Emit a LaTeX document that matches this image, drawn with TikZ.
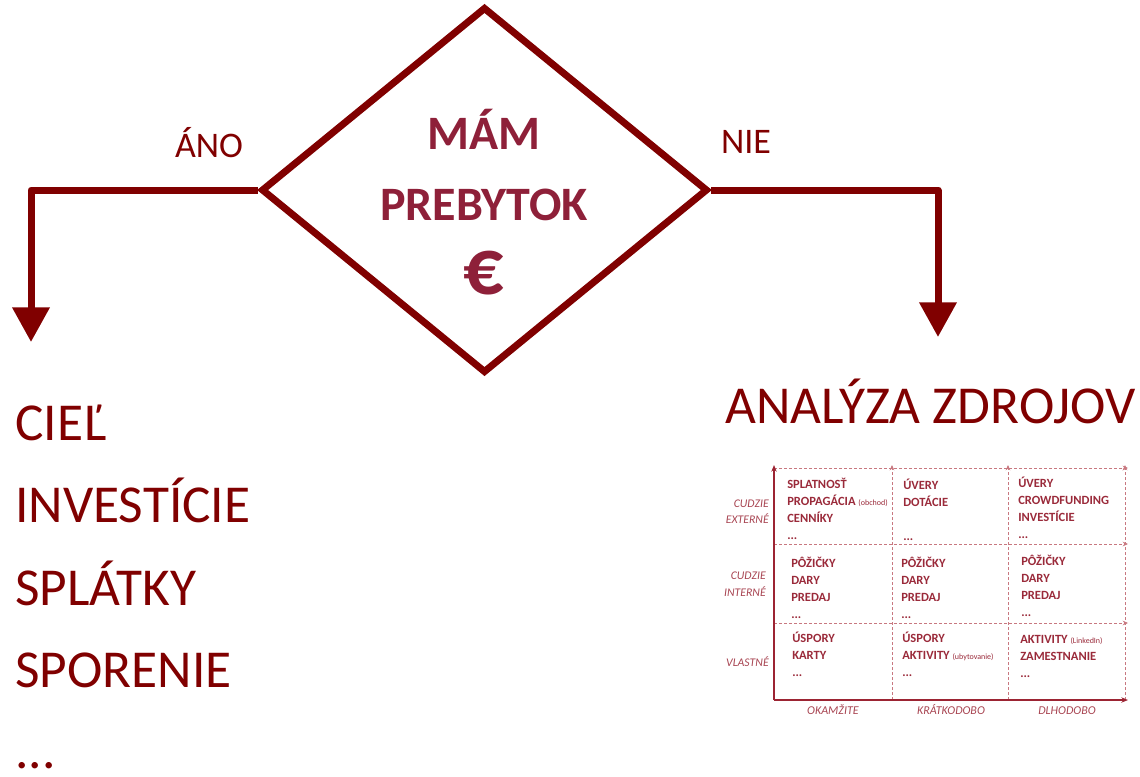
\documentclass[tikz,border=0pt]{standalone}
\usepackage{fontspec}
\setmainfont{Carlito}
\usetikzlibrary{arrows.meta,shapes.geometric}
\definecolor{maroon}{HTML}{800000}
\definecolor{dtext}{HTML}{8E2039}
\definecolor{ttext}{HTML}{9A2A3A}
\definecolor{tlabel}{HTML}{A84552}
\definecolor{tdash}{HTML}{C87880}
\definecolor{taxis}{HTML}{9C2433}
\newcommand{\smallp}{\fontsize{6pt}{7pt}\selectfont\mdseries}
\newcommand{\tdots}{...}
\newcommand{\celllines}[4]{%
  \foreach \ctext [count=\ci] in {#4} {%
    \node[cell] (#1-\ci) at (#2,{#3+(\ci-1)*17}) {\ctext};}}
\begin{document}
\begin{tikzpicture}[x=0.75pt,y=-0.75pt,
  conn/.style={draw=maroon,line width=5.25pt,line join=round,
    -{Triangle[width=27pt,length=26pt]}},
  big/.style={anchor=base west,inner sep=0pt,text=maroon,
    font=\fontsize{40pt}{45pt}\selectfont},
  yesno/.style={anchor=base,inner sep=0pt,text=maroon,
    font=\fontsize{27pt}{30pt}\selectfont},
  dlabel/.style={anchor=base,inner sep=0pt,text=dtext,
    font=\fontsize{36pt}{40pt}\selectfont\bfseries},
  cell/.style={anchor=base west,inner sep=0pt,text=ttext,
    font=\fontsize{9.4pt}{11pt}\selectfont\bfseries},
  rowlab/.style={anchor=base east,inner sep=0pt,text=tlabel,
    font=\fontsize{8.8pt}{10pt}\selectfont\itshape},
  collab/.style={anchor=base,inner sep=0pt,text=tlabel,
    font=\fontsize{9pt}{10pt}\selectfont\itshape},
  axis/.style={draw=taxis,line width=1.5pt,-{Stealth[length=5pt,width=4pt]}},
  grid/.style={draw=tdash,line width=0.75pt,dash pattern=on 2.25pt off 1.5pt,
    -{Stealth[length=4pt,width=3.5pt]}}]
\useasboundingbox (0,0) rectangle (1140,776);

% decision diamond
\node[diamond,draw=maroon,line width=5.25pt,inner sep=0pt,
  minimum width=335pt,minimum height=274.5pt] (dia) at (484.5,190) {};
\node[dlabel] (mam) at (484,149) {MÁM};
\node[dlabel] (preb) at (484,220) {PREBYTOK};
\node[dlabel,font=\fontsize{60pt}{64pt}\selectfont\bfseries] (eur) at (484,294) {€};

% branches
\coordinate (ltip) at (31,342);
\coordinate (rtip) at (938,337);
\draw[conn] (dia.west) -| (ltip);
\draw[conn] (dia.east) -| (rtip);
\node[yesno] (ano) at (209,157) {ÁNO};
\node[yesno] (nie) at (746,153) {NIE};

% left list
\node[big] (ciel) at (15,440) {CIEĽ};
\node[big] (inv) at (15,522) {INVESTÍCIE};
\node[big] (spl) at (15,605) {SPLÁTKY};
\node[big] (spo) at (15,687) {SPORENIE};
\node[big,text depth=0pt,text height=6pt] (dots) at (15,768) {\tdots};

% right title
\node[big] (anal) at (725,423) {ANALÝZA ZDROJOV};

% table frame
\coordinate (o) at (774,700);
\coordinate (ytop) at (774,465);
\coordinate (xend) at (1128,700);
\coordinate (tl) at (774,468);
\coordinate (tr) at (1128,468);
\coordinate (r1l) at (774,544);
\coordinate (r1r) at (1128,544);
\coordinate (r2l) at (774,623);
\coordinate (r2r) at (1128,623);
\coordinate (c1b) at (892,700);
\coordinate (c1t) at (892,465);
\coordinate (c2b) at (1008,700);
\coordinate (c2t) at (1008,465);
\coordinate (c3b) at (1125,700);
\coordinate (c3t) at (1125,465);
\draw[grid] (tl) -- (tr);
\draw[grid] (r1l) -- (r1r);
\draw[grid] (r2l) -- (r2r);
\draw[grid] (c1b) -- (c1t);
\draw[grid] (c2b) -- (c2t);
\draw[grid] (c3b) -- (c3t);
\draw[axis] (o) -- (ytop);
\draw[axis] (o) -- (xend);

% cells
\celllines{a1}{787}{488}{SPLATNOSŤ,PROPAGÁCIA {\smallp(obchod)},CENNÍKY,\tdots}
\celllines{a2}{903}{489}{ÚVERY,DOTÁCIE}
\node[cell] (a2-4) at (903,540) {\tdots};
\celllines{a3}{1018}{487}{ÚVERY,CROWDFUNDING,INVESTÍCIE,\tdots}
\celllines{b1}{791}{567}{PÔŽIČKY,DARY,PREDAJ,\tdots}
\celllines{b2}{901}{567}{PÔŽIČKY,DARY,PREDAJ,\tdots}
\celllines{b3}{1021}{565}{PÔŽIČKY,DARY,PREDAJ,\tdots}
\celllines{c1}{792}{642}{ÚSPORY,KARTY,\tdots}
\celllines{c2}{902}{642}{ÚSPORY,AKTIVITY {\smallp(ubytovanie)},\tdots}
\celllines{c3}{1020}{643}{AKTIVITY {\smallp(LinkedIn)},ZAMESTNANIE,\tdots}

% row labels
\node[rowlab] (rl1a) at (769,507) {CUDZIE};
\node[rowlab] (rl1b) at (769,523) {EXTERNÉ};
\node[rowlab] (rl2a) at (766,579) {CUDZIE};
\node[rowlab] (rl2b) at (766,596) {INTERNÉ};
\node[rowlab] (rl3) at (769,666) {VLASTNÉ};

% column labels
\node[collab] (cl1) at (833,714) {OKAMŽITE};
\node[collab] (cl2) at (951,714) {KRÁTKODOBO};
\node[collab] (cl3) at (1067,714) {DLHODOBO};
\end{tikzpicture}
\end{document}
